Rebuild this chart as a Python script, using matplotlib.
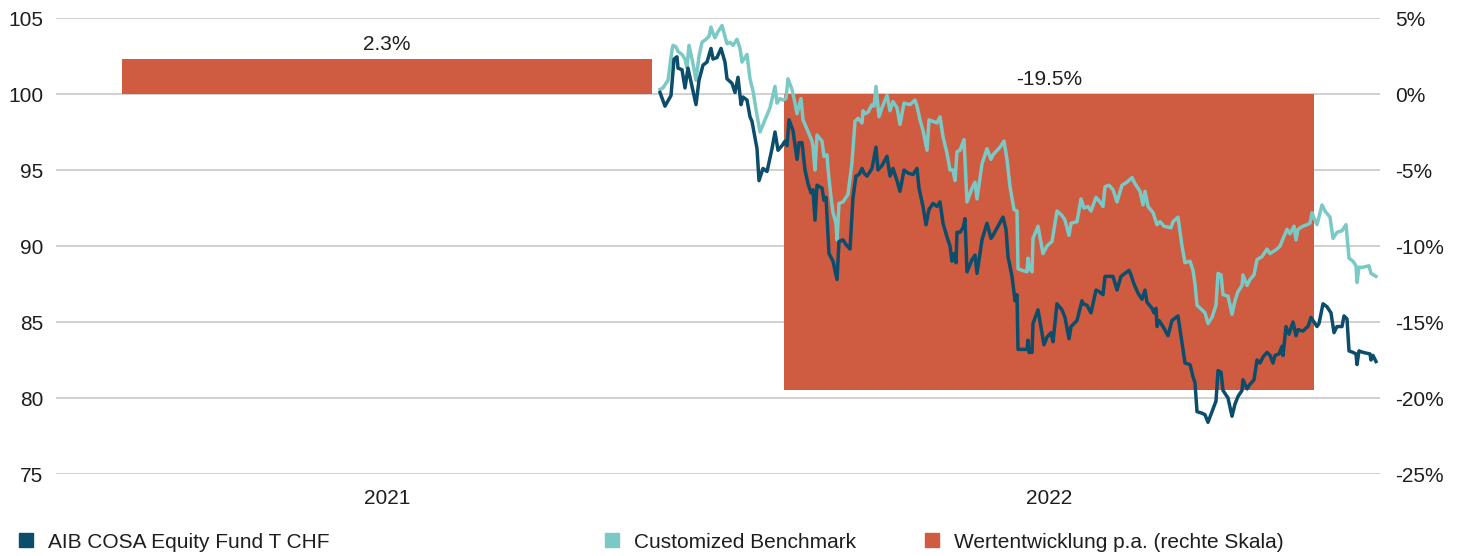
import matplotlib.pyplot as plt
from matplotlib.patches import Patch

plt.rcParams['font.family'] = ['Liberation Sans', 'DejaVu Sans']

# ___ Daten ___
jahre = ['2021', '2022']
rendite_pa = [2.3, -19.5]  # % p.a., rechte Skala

# Tage seit Beginn der Zeitreihe / indexierter Wert (Start = 100)
fonds_tage = [0, 5, 11, 14, 17, 18, 22, 25, 28, 32, 36, 39, 43, 47, 51, 53, 57, 61, 65, 67,
              72, 75, 78, 81, 83, 87, 90, 92, 97, 99, 103, 107, 112, 115, 118, 122, 125, 127,
              129, 133, 137, 139, 142, 145, 148, 151, 153, 155, 157, 162, 164, 166, 169, 173,
              175, 177, 179, 183, 186, 190, 193, 196, 199, 202, 204, 207, 212, 216, 218, 222,
              227, 230, 233, 237, 240, 244, 248, 253, 257, 259, 263, 266, 269, 273, 277, 280,
              283, 287, 290, 292, 294, 296, 297, 300, 303, 305, 307, 312, 315, 317, 322, 327,
              331, 333, 338, 343, 346, 348, 352, 355, 357, 358, 363, 367, 368, 369, 372, 373,
              378, 384, 387, 391, 393, 397, 402, 405, 409, 411, 417, 422, 423, 427, 431, 436,
              439, 443, 445, 449, 453, 457, 461, 465, 469, 471, 474, 478, 482, 485, 487, 492,
              494, 496, 497, 499, 503, 508, 512, 516, 518, 522, 525, 530, 533, 535, 537, 542,
              545, 548, 552, 556, 558, 561, 563, 568, 572, 575, 578, 582, 583, 587, 590, 594,
              597, 600, 603, 607, 610, 613, 615, 619, 622, 623, 626, 629, 633, 636, 638, 643,
              646, 648, 651, 653, 657, 659, 663, 667, 671, 674, 677, 682, 684, 687, 689, 693,
              696, 697, 699, 703, 710, 711, 713, 716]
fonds = [100.1, 99.2, 99.9, 102.3, 102.45, 101.7, 101.6, 100.4, 101.7, 100.5, 99.3, 100.9, 101.9,
         102.1, 103.0, 102.3, 102.4, 103.0, 102.1, 101.0, 100.7, 100.1, 101.1, 99.3, 99.8, 99.6,
         98.5, 98.2, 96.4, 94.3, 95.1, 94.9, 96.4, 97.5, 96.3, 96.6, 96.9, 96.6, 98.3, 97.6,
         95.7, 96.8, 96.8, 95.0, 94.1, 93.5, 93.7, 91.7, 94.0, 93.8, 93.0, 93.2, 89.5, 89.0,
         88.4, 87.8, 90.3, 90.4, 90.1, 89.8, 93.2, 94.6, 94.7, 95.1, 94.8, 94.6, 95.1, 96.5,
         95.0, 95.3, 95.9, 94.6, 95.1, 94.3, 93.6, 95.0, 94.8, 94.7, 95.1, 93.8, 92.6, 91.4,
         92.4, 92.8, 92.6, 92.9, 91.5, 90.6, 90.0, 89.0, 89.5, 88.9, 90.9, 90.9, 91.2, 91.8,
         88.3, 89.1, 89.4, 88.2, 90.4, 91.5, 90.5, 90.7, 91.3, 91.9, 91.1, 89.3, 88.0, 86.4,
         86.8, 83.2, 83.2, 83.2, 83.8, 83.0, 83.0, 84.9, 85.8, 83.5, 84.0, 84.3, 83.7, 86.2,
         85.8, 85.3, 83.9, 84.7, 85.1, 86.4, 86.2, 86.1, 85.6, 87.1, 87.0, 86.8, 88.0, 88.0,
         88.0, 87.1, 88.0, 88.2, 88.4, 88.1, 87.5, 86.9, 86.5, 87.1, 86.3, 85.9, 85.6, 85.9,
         84.7, 85.1, 84.7, 84.1, 85.1, 85.3, 85.4, 83.6, 82.3, 82.2, 81.4, 81.0, 79.1, 79.0,
         78.9, 78.4, 79.1, 79.8, 81.8, 81.7, 80.5, 80.0, 78.8, 79.6, 80.1, 80.5, 81.2, 80.6,
         80.9, 81.2, 82.5, 82.3, 82.7, 83.0, 82.8, 82.3, 82.8, 82.9, 83.4, 82.8, 84.7, 84.2,
         85.0, 84.1, 84.5, 84.4, 84.6, 84.7, 85.3, 85.1, 84.7, 84.9, 86.2, 86.0, 85.6, 84.3,
         84.7, 84.7, 85.4, 85.2, 83.1, 83.0, 82.9, 82.2, 83.1, 83.0, 82.9, 82.5, 82.8, 82.4]

bm_tage = [0, 3, 8, 12, 13, 16, 18, 22, 25, 27, 29, 33, 36, 39, 42, 46, 49, 51, 53, 55, 58, 62,
           67, 70, 73, 77, 80, 82, 84, 87, 90, 93, 97, 100, 105, 110, 115, 117, 120, 123, 126,
           128, 132, 135, 137, 141, 143, 147, 152, 153, 155, 157, 162, 164, 167, 168, 171, 173,
           176, 177, 179, 183, 188, 192, 195, 198, 202, 203, 205, 208, 212, 214, 216, 219, 222,
           227, 230, 233, 237, 240, 244, 250, 255, 257, 260, 263, 267, 269, 273, 277, 280, 283,
           287, 290, 293, 295, 297, 300, 304, 307, 312, 315, 317, 322, 327, 331, 333, 340, 344,
           347, 350, 354, 357, 358, 362, 367, 368, 369, 372, 373, 378, 383, 387, 392, 397, 402,
           405, 409, 411, 417, 421, 424, 428, 431, 436, 440, 443, 445, 449, 453, 457, 462, 467,
           472, 475, 480, 483, 485, 488, 493, 497, 500, 504, 511, 513, 518, 522, 525, 530, 533,
           535, 537, 542, 545, 548, 552, 556, 558, 561, 563, 568, 572, 575, 578, 582, 583, 587,
           590, 594, 597, 602, 607, 610, 617, 620, 627, 630, 634, 636, 638, 643, 647, 650, 652,
           653, 657, 662, 665, 670, 673, 677, 682, 686, 689, 693, 696, 697, 699, 703, 709, 711,
           716]
benchmark = [100.3, 100.4, 100.9, 102.9, 103.2, 103.1, 102.8, 102.6, 102.3, 101.7, 103.2, 102.0,
             100.9, 102.5, 103.4, 103.6, 103.8, 104.4, 104.0, 103.7, 104.1, 104.5, 103.3, 103.4,
             103.2, 103.6, 103.0, 102.1, 102.3, 102.6, 101.0, 100.2, 98.6, 97.5, 98.3, 99.1,
             100.5, 99.4, 99.7, 99.6, 99.7, 101.0, 100.3, 99.4, 98.7, 99.7, 98.3, 97.7, 96.9,
             96.5, 95.0, 97.3, 96.9, 95.9, 96.0, 95.1, 93.2, 92.2, 91.5, 90.4, 92.8, 92.9, 93.4,
             95.5, 98.2, 98.4, 98.1, 98.9, 98.7, 98.8, 99.3, 99.2, 100.5, 98.5, 99.1, 99.9, 98.9,
             99.5, 99.1, 98.0, 99.4, 99.3, 99.6, 99.2, 98.3, 97.6, 96.3, 98.3, 98.2, 98.1, 98.5,
             97.2, 96.1, 95.0, 95.0, 94.3, 96.2, 96.3, 97.0, 92.9, 93.8, 94.2, 93.1, 95.4, 96.4,
             95.7, 96.0, 96.5, 96.9, 95.7, 93.9, 92.4, 92.3, 88.5, 88.4, 88.3, 89.2, 88.6, 88.3,
             90.5, 91.3, 89.5, 90.0, 90.3, 92.3, 92.0, 91.7, 90.7, 91.5, 91.6, 93.1, 92.5, 92.6,
             92.3, 93.2, 92.9, 92.6, 93.9, 94.0, 93.7, 92.9, 94.0, 94.2, 94.5, 94.1, 93.6, 92.7,
             93.6, 92.6, 92.2, 91.4, 91.6, 91.3, 91.2, 91.6, 91.9, 90.0, 88.9, 89.0, 88.4, 87.5,
             86.1, 85.8, 85.6, 84.9, 85.3, 86.1, 88.2, 88.1, 86.8, 86.7, 85.5, 86.4, 87.0, 87.4,
             88.1, 87.4, 87.8, 88.1, 89.1, 89.3, 89.8, 89.5, 89.8, 90.0, 91.1, 90.8, 91.3, 90.4,
             91.1, 91.3, 91.4, 91.5, 92.2, 92.0, 91.4, 92.7, 92.3, 91.9, 90.5, 90.9, 91.0, 91.4,
             89.2, 89.0, 88.7, 87.6, 88.6, 88.6, 88.7, 88.2, 88.0]

labels = ['AIB COSA Equity Fund T CHF', 'Customized Benchmark', 'Wertentwicklung p.a. (rechte Skala)']

# Farben
c_fonds = '#0B4D6B'
c_bm = '#7AC9C4'
c_bar = '#CF5B40'
c_grid = '#C8C8C8'
c_text = '#1E1E1E'
fs = 15

fig = plt.figure(figsize=(14.61, 5.56), dpi=100)
rect = [56 / 1461, 82 / 556, 1324 / 1461, 456 / 556]

# ___ Balken (rechte Skala) ___
ax = fig.add_axes(rect)
x = range(len(jahre))
ax.bar(x, rendite_pa, width=0.8, color=c_bar, zorder=2)
for xi, v in zip(x, rendite_pa):
    ax.annotate(f'{v:.1f}%', (xi, max(v, 0)), xytext=(0, 3.5), textcoords='offset points',
                ha='center', va='bottom', fontsize=fs, color=c_text)
ax.set_xlim(-0.5, 1.5)
ax.set_ylim(-25, 5)
ax.set_yticks(range(-25, 10, 5))
ax.set_yticklabels([f'{t}%' for t in range(-25, 10, 5)])
ax.yaxis.tick_right()
ax.set_xticks(list(x))
ax.set_xticklabels(jahre)
ax.tick_params(axis='y', length=0, pad=11, labelsize=fs, labelcolor=c_text)
ax.tick_params(axis='x', length=0, pad=11, labelsize=fs, labelcolor=c_text)
ax.set_axisbelow(True)
ax.grid(axis='y', color=c_grid, linewidth=1.2)
for s in ax.spines.values():
    s.set_visible(False)

# ___ Linien (linke Skala) ___
axl = fig.add_axes(rect, facecolor='none')
axl.plot(bm_tage, benchmark, color=c_bm, lw=2.5, zorder=3)
axl.plot(fonds_tage, fonds, color=c_fonds, lw=2.5, zorder=4)
# Zeitreihe beginnt bei ca. 45.6% der Achsenbreite
axl.set_xlim(-604, 720)
axl.set_ylim(75, 105)
axl.set_yticks(range(75, 110, 5))
axl.set_xticks([])
axl.tick_params(axis='y', length=0, pad=9, labelsize=fs, labelcolor=c_text)
for s in axl.spines.values():
    s.set_visible(False)

# ___ Legende ___
handles = [Patch(color=c_fonds), Patch(color=c_bm), Patch(color=c_bar)]
for h, lab, xpos in zip(handles, labels, [19, 605, 925]):
    fig.legend([h], [lab], loc='center left', bbox_to_anchor=(xpos / 1461, 1 - 542 / 556),
               frameon=False, fontsize=fs, handlelength=0.68, handleheight=0.68,
               handletextpad=0.7, borderpad=0, borderaxespad=0, labelcolor=c_text)

fig.savefig('out.png', dpi=100)
